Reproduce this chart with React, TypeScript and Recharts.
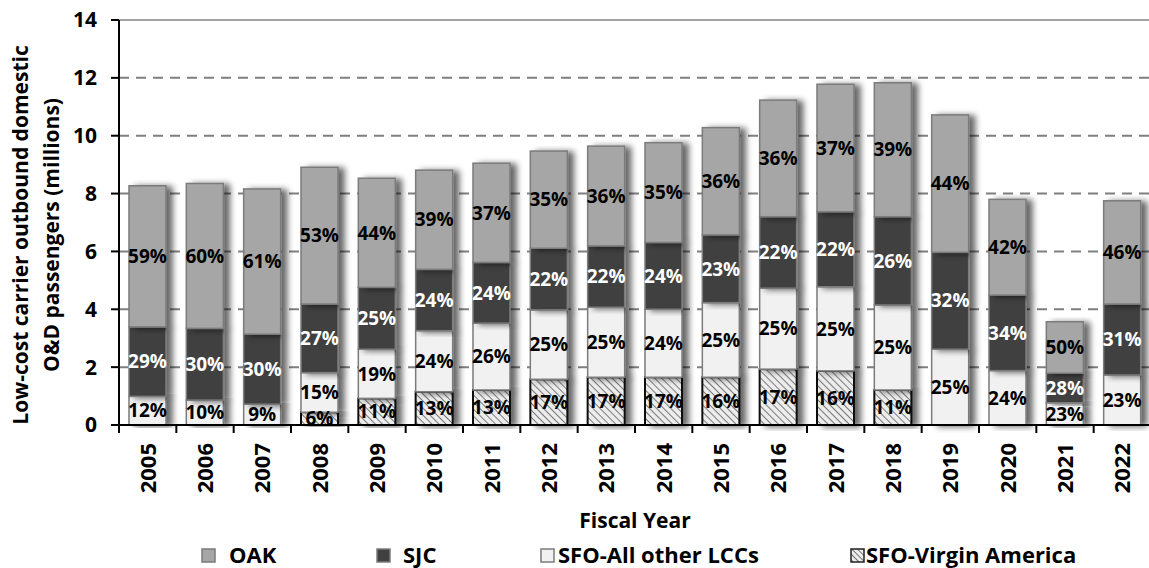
import React from 'react';
import { BarChart, Bar, XAxis, YAxis, CartesianGrid, Legend, LabelList, ReferenceLine } from 'recharts';

// passengers in millions
const years = ['2005', '2006', '2007', '2008', '2009', '2010', '2011', '2012', '2013', '2014', '2015', '2016', '2017', '2018', '2019', '2020', '2021', '2022'];
const oak = [4.88, 5.01, 5.02, 4.73, 3.77, 3.43, 3.43, 3.36, 3.45, 3.45, 3.71, 4.03, 4.41, 4.63, 4.75, 3.31, 1.78, 3.57];
const sjc = [2.40, 2.48, 2.42, 2.37, 2.14, 2.12, 2.10, 2.13, 2.12, 2.31, 2.34, 2.47, 2.59, 3.05, 3.35, 2.61, 1.02, 2.45];
const sfoOther = [0.99, 0.86, 0.72, 1.37, 1.70, 2.11, 2.31, 2.40, 2.42, 2.35, 2.58, 2.80, 2.91, 2.94, 2.62, 1.88, 0.77, 1.73];
const sfoVirgin = [0, 0, 0, 0.44, 0.92, 1.15, 1.21, 1.58, 1.65, 1.65, 1.65, 1.93, 1.87, 1.21, 0, 0, 0, 0];

// share labels printed in the segments
const oakPct = [59, 60, 61, 53, 44, 39, 37, 35, 36, 35, 36, 36, 37, 39, 44, 42, 50, 46];
const sjcPct = [29, 30, 30, 27, 25, 24, 24, 22, 22, 24, 23, 22, 22, 26, 32, 34, 28, 31];
const sfoOtherPct = [12, 10, 9, 15, 19, 24, 26, 25, 25, 24, 25, 25, 25, 25, 25, 24, 23, 23];
const sfoVirginPct = [null, null, null, 6, 11, 13, 13, 17, 17, 17, 16, 17, 16, 11, null, null, null, null];

const yTicks = [0, 2, 4, 6, 8, 10, 12, 14];
const seriesNames = ['OAK', 'SJC', 'SFO-All other LCCs', 'SFO-Virgin America'];

const data = years.map((year, i) => ({
  year,
  oak: oak[i],
  sjc: sjc[i],
  sfoOther: sfoOther[i],
  sfoVirgin: sfoVirgin[i],
  oakPct: oakPct[i],
  sjcPct: sjcPct[i],
  sfoOtherPct: sfoOtherPct[i],
  sfoVirginPct: sfoVirginPct[i],
}));

const CHART_W = 1151;
const CHART_H = 568;
const Y_AXIS_W = 119;
const BAND = (CHART_W - Y_AXIS_W) / years.length;
const FONT = '"Open Sans", sans-serif';

const OAK_FILL = '#a6a6a6';
const SJC_FILL = '#404040';
const SFO_FILL = '#f1f1f1';
const EDGE = '#7b7b7b';

const pct = (v: any) => (v == null ? '' : `${v}%`);

const makeShape = (fill: string, stroke: string, sw: number) => (p: any) => {
  const { x, y, width, height } = p;
  if (!height || height <= 0) return <g />;
  return (
    <rect x={x} y={y} width={width} height={height} fill={fill} stroke={stroke} strokeWidth={sw} filter="url(#barShadow)" />
  );
};

const YearTick = (props: any) => {
  const { x, y, payload, index } = props;
  const half = BAND / 2;
  return (
    <g>
      <line x1={x - half} x2={x - half} y1={y} y2={y + 8} stroke="#000" strokeWidth={2} />
      {index === years.length - 1 && <line x1={x + half} x2={x + half} y1={y} y2={y + 8} stroke="#000" strokeWidth={2} />}
      <text
        transform={`translate(${x + 8},${y + 18}) rotate(-90)`}
        textAnchor="end"
        fontFamily={FONT}
        fontWeight={700}
        fontSize={22}
        fill="#000"
      >
        {payload.value}
      </text>
    </g>
  );
};

const YTitle = () => (
  <g fontFamily={FONT} fontWeight={700} fontSize={21} fill="#000">
    <text transform="translate(28,235) rotate(-90)" textAnchor="middle">Low-cost carrier outbound domestic</text>
    <text transform="translate(59,235) rotate(-90)" textAnchor="middle">O&amp;D passengers (millions)</text>
  </g>
);

const legendSpots = [
  { box: 201, text: 229, fill: OAK_FILL },
  { box: 376, text: 403, fill: SJC_FILL },
  { box: 540, text: 558, fill: SFO_FILL },
  { box: 850, text: 866, fill: 'url(#legendHatch)' },
];

const LegendBox = () => (
  <div style={{ position: 'relative', height: 36, fontFamily: FONT, fontWeight: 700, fontSize: 22, color: '#000' }}>
    {seriesNames.map((name, i) => (
      <React.Fragment key={name}>
        <svg width={15} height={15} style={{ position: 'absolute', left: legendSpots[i].box, top: 16 }}>
          {i === 3 && (
            <defs>
              <pattern id="legendHatch" width={4} height={4} patternUnits="userSpaceOnUse" patternTransform="rotate(-45)">
                <rect width={4} height={4} fill="#eeeeee" />
                <line x1={0} y1={0} x2={0} y2={4} stroke="#555" strokeWidth={1.6} />
              </pattern>
            </defs>
          )}
          <rect x={1} y={1} width={13} height={13} fill={legendSpots[i].fill} stroke={i === 3 ? '#222' : EDGE} strokeWidth={1.5} />
        </svg>
        <span style={{ position: 'absolute', left: legendSpots[i].text, top: 10, lineHeight: '24px', whiteSpace: 'nowrap' }}>{name}</span>
      </React.Fragment>
    ))}
  </div>
);

export default function App() {
  return (
    <div style={{ position: 'absolute', left: 0, top: 0, width: 1149, height: CHART_H, overflow: 'hidden', background: '#fff' }}>
      <BarChart width={CHART_W} height={CHART_H} data={data} margin={{ top: 20, right: 0, left: 0, bottom: 0 }}>
        <defs>
          <pattern id="hatch" width={5} height={5} patternUnits="userSpaceOnUse" patternTransform="rotate(-45)">
            <rect width={5} height={5} fill="#ececec" />
            <line x1={0} y1={0} x2={0} y2={5} stroke="#5a5a5a" strokeWidth={1.6} />
          </pattern>
          <filter id="barShadow" x="-30%" y="-10%" width="170%" height="120%">
            <feGaussianBlur in="SourceAlpha" stdDeviation={3} />
            <feOffset dx={6} dy={1} result="blur" />
            <feComponentTransfer>
              <feFuncA type="linear" slope={0.6} />
            </feComponentTransfer>
            <feMerge>
              <feMergeNode />
              <feMergeNode in="SourceGraphic" />
            </feMerge>
          </filter>
        </defs>
        <CartesianGrid vertical={false} stroke="#7f7f7f" strokeWidth={2} strokeDasharray="10 7" />
        <ReferenceLine y={14} stroke="#a3a3a3" strokeWidth={2} />
        <XAxis
          dataKey="year"
          height={107}
          tickSize={0}
          tickMargin={0}
          tick={<YearTick />}
          interval={0}
          axisLine={{ stroke: '#000', strokeWidth: 2 }}
          tickLine={false}
          label={{ value: 'Fiscal Year', position: 'insideBottom', offset: 4, fontFamily: FONT, fontWeight: 700, fontSize: 21, fill: '#000' }}
        />
        <YAxis
          width={Y_AXIS_W}
          domain={[0, 14]}
          ticks={yTicks}
          interval={0}
          tickSize={8}
          tickMargin={14}
          axisLine={{ stroke: '#000', strokeWidth: 2 }}
          tickLine={{ stroke: '#000', strokeWidth: 2 }}
          tick={{ fontFamily: FONT, fontWeight: 700, fontSize: 21, fill: '#000' }}
          label={<YTitle />}
        />
        <Legend verticalAlign="bottom" align="left" content={<LegendBox />} />
        <Bar dataKey="sfoVirgin" name={seriesNames[3]} stackId="a" barSize={37} isAnimationActive={false} shape={makeShape('url(#hatch)', '#111', 2)}>
          <LabelList dataKey="sfoVirginPct" position="center" formatter={pct} fill="#000" fontFamily={FONT} fontWeight={700} fontSize={19} />
        </Bar>
        <Bar dataKey="sfoOther" name={seriesNames[2]} stackId="a" barSize={37} isAnimationActive={false} shape={makeShape(SFO_FILL, EDGE, 1.5)}>
          <LabelList dataKey="sfoOtherPct" position="center" formatter={pct} fill="#000" fontFamily={FONT} fontWeight={700} fontSize={19} />
        </Bar>
        <Bar dataKey="sjc" name={seriesNames[1]} stackId="a" barSize={37} isAnimationActive={false} shape={makeShape(SJC_FILL, EDGE, 1.5)}>
          <LabelList dataKey="sjcPct" position="center" formatter={pct} fill="#fff" fontFamily={FONT} fontWeight={700} fontSize={19} />
        </Bar>
        <Bar dataKey="oak" name={seriesNames[0]} stackId="a" barSize={37} isAnimationActive={false} shape={makeShape(OAK_FILL, EDGE, 1.5)}>
          <LabelList dataKey="oakPct" position="center" formatter={pct} fill="#000" fontFamily={FONT} fontWeight={700} fontSize={19} />
        </Bar>
      </BarChart>
    </div>
  );
}
